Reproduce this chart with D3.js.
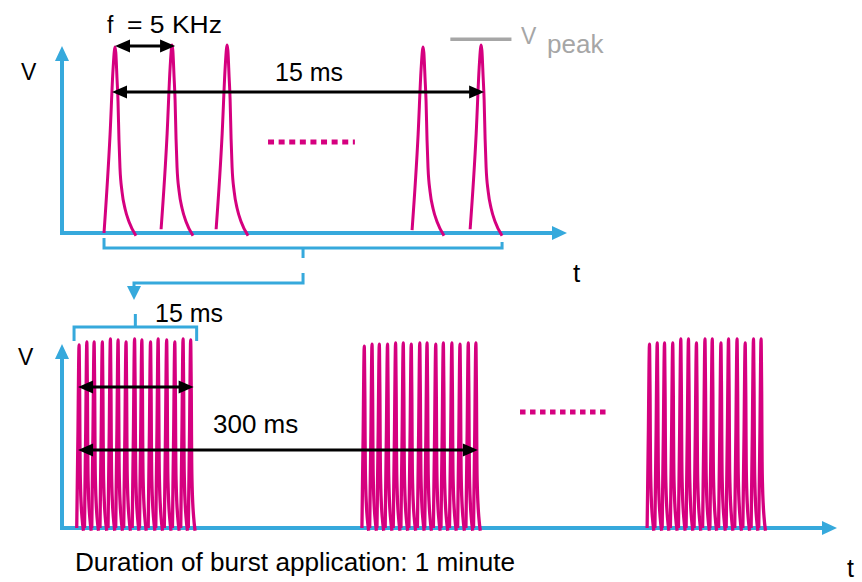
<!DOCTYPE html>
<html><head><meta charset="utf-8">
<script src="https://cdn.jsdelivr.net/npm/d3@7/dist/d3.min.js"></script>
<style>
html,body{margin:0;padding:0;background:#fff;}
svg{display:block;}
text{font-family:"Liberation Sans",Arial,sans-serif;}
</style></head>
<body>
<svg id="chart" width="862" height="582"></svg>
<script>
// ---------- data (schematic units) ----------
// top panel: single pulses (time units 0..100, peak level 0..1)
const topPulseTimes = [10.5, 21.8, 32.7, 71.5, 83.0];
const topPulsePeaks = [0.99, 1.0, 1.0, 0.99, 1.0];
const topPulseBase  = [0.0, 0.02, 0.02, 0.015, 0.02];
// normalized pulse shape: [time relative to peak / rise time, level]
const pulseProfile = [[-1,0],[-0.45,0.53],[-0.18,0.88],[-0.06,0.98],[0,1],[0.07,0.97],
  [0.18,0.83],[0.27,0.71],[0.36,0.5],[0.45,0.35],[0.64,0.22],[0.91,0.13],[1.27,0.06],[1.9,-0.015]];
// bottom panel: bursts of 15 pulses
const burstStarts = [2.2, 39.0, 75.8];
const pulseOffsets = [0, 1.0, 1.94, 3.0, 4.04, 5.03, 6.06, 7.16, 8.1, 9.22, 10.2, 11.3, 12.35, 13.42, 14.4];
const burstPeaks = [
  [0.984,1,1,1,1.016,1.011,1,1.016,1.011,1,1.016,1.011,1,1.016,1.011],
  [0.978,0.989,0.989,0.989,0.995,0.995,0.989,0.995,0.995,0.989,0.995,0.995,0.989,0.995,0.995],
  [0.989,0.995,0.995,0.995,1.016,1.016,0.995,1.016,1.016,0.995,1.016,1.016,0.995,1.016,1.016]
];
// annotation spans
const topDots = [40.8, 58.0], topDotsLevel = 0.484;
const botDots = [59.1, 70.7], botDotsLevel = 0.624;
const vPeakSpan = [76.9, 89.0], vPeakLevel = 1.03;

// ---------- styles ----------
const MAG = "#d5007f", BLUE = "#36a9dc", GRAY = "#a6a6a6";

const svg = d3.select("#chart");
svg.append("rect").attr("width",862).attr("height",582).attr("fill","#fff");

// scales
const xTop = d3.scaleLinear().domain([0,100]).range([62,567]);
const yTop = d3.scaleLinear().domain([0,1]).range([233,45]);
const xBot = d3.scaleLinear().domain([0,100]).range([62,837]);
const yBot = d3.scaleLinear().domain([0,1]).range([528,342]);

const topRise = 2.18, botRise = 0.3;

function pulsePoints(tPeak, peak, base, rise){
  return pulseProfile.map(([u,v],i)=>{
    let lv = v*peak;
    if(i===0) lv = base;
    return [tPeak + u*rise, lv];
  });
}

// ---- axes (blue with arrowheads)
function axisArrow(x0,y0,x1,y1){
  svg.append("line").attr("x1",x0).attr("y1",y0).attr("x2",x1).attr("y2",y1)
    .attr("stroke",BLUE).attr("stroke-width",4);
}
function triangle(tipX,tipY,dir,len,hw,color){
  let pts;
  if(dir==="up") pts=[[tipX,tipY],[tipX-hw,tipY+len],[tipX+hw,tipY+len]];
  if(dir==="down") pts=[[tipX,tipY],[tipX-hw,tipY-len],[tipX+hw,tipY-len]];
  if(dir==="right") pts=[[tipX,tipY],[tipX-len,tipY-hw],[tipX-len,tipY+hw]];
  if(dir==="left") pts=[[tipX,tipY],[tipX+len,tipY-hw],[tipX+len,tipY+hw]];
  svg.append("polygon").attr("points",pts.map(p=>p.join(",")).join(" ")).attr("fill",color);
}
// top axes
axisArrow(xTop(0), yTop(0)+2, xTop(0), yTop(1)+12);
triangle(xTop(0), 46, "up", 15, 7, BLUE);
axisArrow(xTop(0)-2, yTop(0), xTop(100)-12, yTop(0));
triangle(xTop(100), yTop(0), "right", 15, 7, BLUE);
// bottom axes
axisArrow(xBot(0), yBot(0)+2, xBot(0), 358);
triangle(xBot(0), 344, "up", 15, 7, BLUE);
axisArrow(xBot(0)-2, yBot(0), xBot(100)-12, yBot(0));
triangle(xBot(100), yBot(0), "right", 15, 7, BLUE);

// ---- pulses
const lineTop = d3.line().x(d=>xTop(d[0])).y(d=>yTop(d[1])).curve(d3.curveMonotoneX);
const lineBot = d3.line().x(d=>xBot(d[0])).y(d=>yBot(d[1])).curve(d3.curveMonotoneX);

topPulseTimes.forEach((t,i)=>{
  svg.append("path").attr("d", lineTop(pulsePoints(t, topPulsePeaks[i], topPulseBase[i], topRise)))
    .attr("fill","none").attr("stroke",MAG).attr("stroke-width",3).attr("stroke-linejoin","round");
});
burstStarts.forEach((b,bi)=>{
  pulseOffsets.forEach((o,pi)=>{
    svg.append("path").attr("d", lineBot(pulsePoints(b+o, burstPeaks[bi][pi], 0, botRise)))
      .attr("fill","none").attr("stroke",MAG).attr("stroke-width",3.3).attr("stroke-linejoin","round");
  });
});

// ---- dotted continuation marks
svg.append("line").attr("x1",xTop(topDots[0])).attr("x2",xTop(topDots[1]))
  .attr("y1",yTop(topDotsLevel)).attr("y2",yTop(topDotsLevel))
  .attr("stroke",MAG).attr("stroke-width",5).attr("stroke-dasharray","6,4.6");
svg.append("line").attr("x1",xBot(botDots[0])).attr("x2",xBot(botDots[1]))
  .attr("y1",yBot(botDotsLevel)).attr("y2",yBot(botDotsLevel))
  .attr("stroke",MAG).attr("stroke-width",5).attr("stroke-dasharray","5.5,4.5");

// ---- V peak marker
svg.append("line").attr("x1",xTop(vPeakSpan[0])).attr("x2",xTop(vPeakSpan[1]))
  .attr("y1",yTop(vPeakLevel)).attr("y2",yTop(vPeakLevel))
  .attr("stroke",GRAY).attr("stroke-width",3.5);

// ---- black double arrows
function dblArrow(x1,x2,y){
  svg.append("line").attr("x1",x1+10).attr("x2",x2-10).attr("y1",y).attr("y2",y)
    .attr("stroke","#000").attr("stroke-width",3);
  triangle(x1,y,"left",15,6.5,"#000");
  triangle(x2,y,"right",15,6.5,"#000");
}
dblArrow(xTop(topPulseTimes[0]), xTop(topPulseTimes[1])+3, 46);
dblArrow(xTop(topPulseTimes[0])-3, xTop(topPulseTimes[4])+3, 92);
const bFirst = xBot(burstStarts[0]+pulseOffsets[0]);
const bLast = xBot(burstStarts[0]+pulseOffsets[14]);
dblArrow(bFirst-1, bLast+3, 387);
dblArrow(bFirst-1, xBot(burstStarts[1]+pulseOffsets[14])+2, 450);

// ---- blue brackets and link arrow
const tStart = xTop(topPulseTimes[0]-topRise);
const tEnd = xTop(topPulseTimes[4]+1.9*topRise);
const mid = (tStart+tEnd)/2;
svg.append("path").attr("d",
  `M${tStart},238 V248 H${tEnd} V242 M${mid},248 V258 M${mid},273 V283 H134 V288`)
  .attr("fill","none").attr("stroke",BLUE).attr("stroke-width",3);
triangle(134,300,"down",14,7,BLUE);
const bl = xBot(burstStarts[0])-5, br = xBot(burstStarts[0]+pulseOffsets[14])+6;
svg.append("path").attr("d",
  `M${bl},341 V327 H${br} V341 M${(bl+br)/2},327 V314`)
  .attr("fill","none").attr("stroke",BLUE).attr("stroke-width",3);

// ---- texts
function txt(s,x,y,size,color,len){
  const t = svg.append("text").attr("x",x).attr("y",y).attr("font-size",size)
    .attr("fill",color||"#000").text(s);
  if(len) t.attr("textLength",len).attr("lengthAdjust","spacingAndGlyphs");
  return t;
}
txt("f",107,33,23);
txt("= 5 KHz",127,33,23,null,95);
txt("V",21,80,23);
txt("15 ms",275,81,25,null,68);
txt("V",521,44,23,GRAY);
txt("peak",547,53,26,GRAY);
txt("t",573,282,26);
txt("15 ms",155,322,25,null,68);
txt("V",18,365,23);
txt("300 ms",213,433,26);
txt("Duration of burst application: 1 minute",75,571,26,null,440);
txt("t",847,577,25);
</script>
</body></html>
